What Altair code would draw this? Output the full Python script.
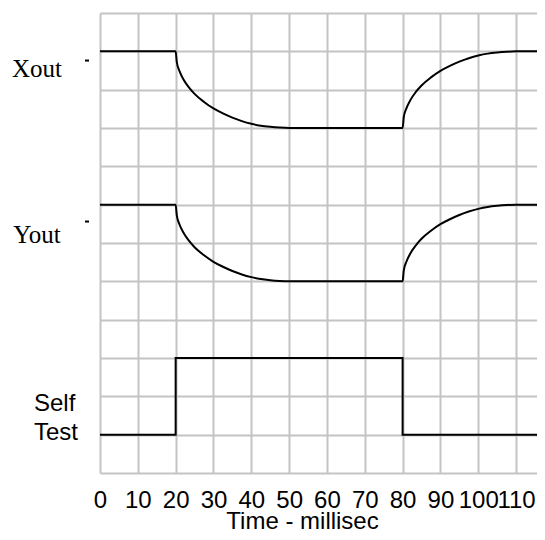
import altair as alt
import pandas as pd

# ---- data ----
# Xout: high (11) until 20 ms, decays to 9 by ~50 ms, rises from 80 ms back to 11 by ~110 ms
xout_t = [0, 20, 20.3, 21, 22, 23.5, 25, 27.5, 30, 32.5, 35, 37.5, 40, 42.5, 45, 47.5, 50,
          80, 80.3, 81, 82, 83.5, 85, 87.5, 90, 92.5, 95, 97.5, 100, 102.5, 105, 107.5, 110, 120]
xout_v = [11, 11, 10.72, 10.49, 10.28, 10.06, 9.89, 9.68, 9.51, 9.38, 9.27, 9.18, 9.11, 9.06, 9.03, 9.01, 9.0,
          9.0, 9.28, 9.51, 9.72, 9.94, 10.11, 10.32, 10.49, 10.62, 10.73, 10.82, 10.89, 10.94, 10.97, 10.99, 11, 11]
yout_t = xout_t
yout_v = [7, 7, 6.72, 6.49, 6.28, 6.06, 5.89, 5.68, 5.51, 5.38, 5.27, 5.18, 5.11, 5.06, 5.03, 5.01, 5.0,
          5.0, 5.28, 5.51, 5.72, 5.94, 6.11, 6.32, 6.49, 6.62, 6.73, 6.82, 6.89, 6.94, 6.97, 6.99, 7, 7]
# Self Test: low (1) then high (3) between 20 and 80 ms
st_t = [0, 20, 20, 80, 80, 120]
st_v = [1, 1, 3, 3, 1, 1]

x_ticks = [0, 10, 20, 30, 40, 50, 60, 70, 80, 90, 100, 110]
y_grid = list(range(13))

# row labels (text, y position in grid units)
label_text = ["Xout", "Yout"]
label_y = [10.32, 6.01]
st_text = ["Self", "Test"]
st_y = [1.625, 0.86]
dash_y = [10.76, 6.56]

curves = pd.DataFrame({
    "t": xout_t + yout_t,
    "v": xout_v + yout_v,
    "series": ["Xout"] * len(xout_t) + ["Yout"] * len(yout_t),
    "order": list(range(len(xout_t))) + list(range(len(yout_t))),
})
selftest = pd.DataFrame({"t": st_t, "v": st_v, "order": list(range(len(st_t)))})
labels = pd.DataFrame({"text": label_text, "v": label_y})
stlabels = pd.DataFrame({"text": st_text, "v": st_y})
dashes = pd.DataFrame({"v": dash_y})

xscale = alt.Scale(domain=[0, 115.53], nice=False, zero=False)
yscale = alt.Scale(domain=[0, 12], nice=False)

xaxis = alt.Axis(values=x_ticks, title="Time - millisec", grid=True, ticks=False,
                 domain=False, labelFont="Liberation Sans", labelFontSize=24,
                 labelColor="black", labelPadding=15, labelFlush=False,
                 labelOverlap=False,
                 titleFont="Liberation Sans", titleFontSize=24, titleFontWeight="normal",
                 titleColor="black", titleBaseline="alphabetic", titleY=55, titleX=202,
                 titleAlign="center", titleAnchor="start")
yaxis = alt.Axis(values=y_grid, labels=False, ticks=False, domain=False, title=None, grid=True)

xenc = alt.X("t:Q", scale=xscale, axis=xaxis)
yenc = alt.Y("v:Q", scale=yscale, axis=yaxis)

curve_layer = alt.Chart(curves).mark_line(
    color="black", strokeWidth=2, interpolate="monotone", clip=True
).encode(x=xenc, y=yenc, detail="series:N", order="order:Q")

st_layer = alt.Chart(selftest).mark_line(
    color="black", strokeWidth=2, clip=True
).encode(x=xenc, y=yenc, order="order:Q")

label_layer = alt.Chart(labels).mark_text(
    font="Liberation Serif", fontSize=25, color="black", align="center", baseline="alphabetic"
).encode(x=alt.value(-63), y=yenc, text="text:N")

st_label_layer = alt.Chart(stlabels).mark_text(
    font="Liberation Sans", fontSize=24, color="black", align="left", baseline="alphabetic"
).encode(x=alt.value(-66), y=yenc, text="text:N")

dash_layer = alt.Chart(dashes).mark_rule(color="black", strokeWidth=2).encode(
    x=alt.value(-15), x2=alt.value(-11), y=yenc
)

chart = alt.layer(curve_layer, st_layer, label_layer, st_label_layer, dash_layer).properties(
    width=437, height=460,
    autosize=alt.AutoSizeParams(type="none"),
    padding={"left": 92, "top": 5, "right": 0, "bottom": 59},
).configure_view(stroke=None).configure_axis(
    gridColor="#c4c4c4", gridWidth=2, gridOpacity=1
)

chart.save("out.html", embed_options={"renderer": "svg", "actions": False})
